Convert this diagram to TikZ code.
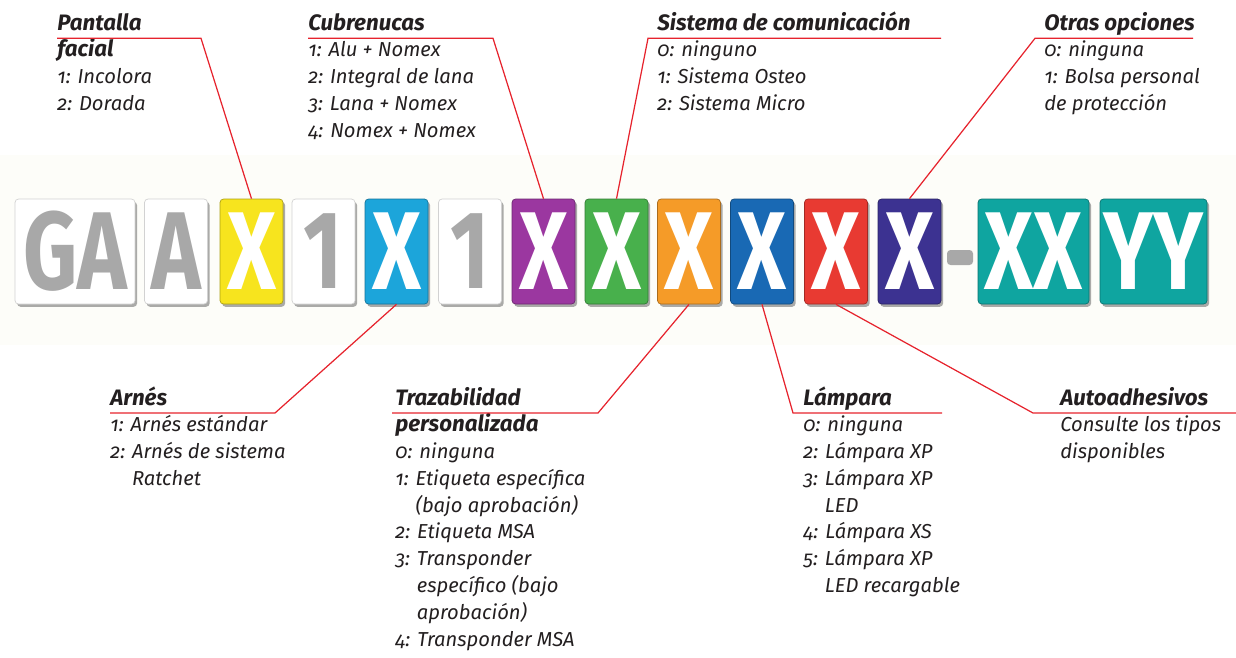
\documentclass[tikz,border=0pt]{standalone}
\usepackage{fontspec}
\usepackage{graphicx}
\setmainfont{Fira Sans}[Numbers=OldStyle]
\newfontfamily\tilefont{Fira Sans}[Numbers=Lining]
\usetikzlibrary{positioning, shadows}
\definecolor{calloutred}{RGB}{230,35,45}
\definecolor{inkdark}{RGB}{35,31,32}
\definecolor{bandcream}{RGB}{253,253,249}
\definecolor{lettergray}{RGB}{168,168,168}
\definecolor{tyellow}{RGB}{247,228,30}
\definecolor{tcyan}{RGB}{28,165,218}
\definecolor{tpurple}{RGB}{155,55,160}
\definecolor{tgreen}{RGB}{72,176,76}
\definecolor{torange}{RGB}{245,155,40}
\definecolor{tblue}{RGB}{25,105,180}
\definecolor{tred}{RGB}{232,58,50}
\definecolor{tnavy}{RGB}{60,50,145}
\definecolor{tteal}{RGB}{15,165,160}
\newcommand{\tileletters}[1]{\scalebox{0.76}[1]{#1}}
\newcommand{\opthead}[1]{{\bfseries\fontsize{12.7}{15.25}\selectfont #1}}
\newcommand{\optlist}[1]{\begin{tabular}[t]{@{}l@{}}#1\end{tabular}}

\tikzset{
  tile/.style={rounded corners=2pt, inner sep=0pt, minimum height=2.1cm, minimum width=1.26cm,
    font=\tilefont\bfseries\fontsize{63}{63}\selectfont, text=white,
    drop shadow={shadow xshift=1.2pt, shadow yshift=-1.6pt, fill=black!60, opacity=0.55}},
  blank/.style={tile, fill=white, draw=gray!35, text=lettergray},
  coloured/.style={tile, fill=#1, draw=#1!70!black},
  callout/.style={calloutred, line width=0.7pt},
  opts/.style={anchor=base west, inner sep=0pt, text=inkdark,
    font=\itshape\fontsize{11.5}{15.25}\selectfont},
}

\begin{document}
\begin{tikzpicture}[x=0.02cm, y=-0.02cm]
    \useasboundingbox (0,0) rectangle (1236,657);
    \fill[bandcream] (0,155) rectangle (1236,345);

    % Draw the white tiles
    \node[blank, minimum width=2.4cm] (tGA) at (75,251.5) {\tileletters{GA}};
    \node[blank] (tA) at (176,251.5) {\tileletters{A}};
    \node[blank] (tone) at (323.5,251.5) {\tileletters{1}};
    \node[blank] (ttwo) at (470,251.5) {\tileletters{1}};

    % Draw the coloured tiles
    \foreach \x/\name/\col in {251.5/visor/tyellow, 396.5/harness/tcyan, 543.5/cape/tpurple,
        616.5/comms/tgreen, 689/trace/torange, 762/lamp/tblue, 836/sticker/tred, 909.5/other/tnavy} {
        \node[coloured=\col] (\name) at (\x,251.5) {\tileletters{X}};
    }
    \node[fill=lettergray, rounded corners=2pt, inner sep=0pt, minimum width=0.52cm,
        minimum height=0.3cm] (dash) at (960,257.5) {};
    \node[coloured=tteal, minimum width=2.22cm] (tXX) at (1033.5,251.5) {\tileletters{XX}};
    \node[coloured=tteal, minimum width=2.14cm] (tYY) at (1153.5,251.5) {\tileletters{YY}};

    % Add the option texts
    \node[opts] (visortext) at (57,30) {\optlist{\opthead{Pantalla}\\\opthead{facial}\\1: Incolora\\2: Dorada}};
    \node[opts] (capetext) at (308,30) {\optlist{\opthead{Cubrenucas}\\1: Alu + Nomex\\2: Integral de lana\\3: Lana + Nomex\\4: Nomex + Nomex}};
    \node[opts] (commstext) at (657,30) {\optlist{\opthead{Sistema de comunicación}\\0: ninguno\\1: Sistema Osteo\\2: Sistema Micro}};
    \node[opts] (othertext) at (1044,30) {\optlist{\opthead{Otras opciones}\\0: ninguna\\1: Bolsa personal\\de protección}};
    \node[opts] (harnesstext) at (110,405) {\optlist{\opthead{Arnés}\\1: Arnés estándar\\2: Arnés de sistema\\\phantom{2: }Ratchet}};
    \node[opts] (tracetext) at (395,405) {\optlist{\opthead{Trazabilidad}\\\opthead{personalizada}\\0: ninguna\\1: Etiqueta específica\\\phantom{1: }(bajo aprobación)\\2: Etiqueta MSA\\3: Transponder\\\phantom{3: }específico (bajo\\\phantom{3: }aprobación)\\4: Transponder MSA}};
    \node[opts] (lamptext) at (803,405) {\optlist{\opthead{Lámpara}\\0: ninguna\\2: Lámpara XP\\3: Lámpara XP\\\phantom{3: }LED\\4: Lámpara XS\\5: Lámpara XP\\\phantom{5: }LED recargable}};
    \node[opts] (stickertext) at (1060,405) {\optlist{\opthead{Autoadhesivos}\\Consulte los tipos\\disponibles}};

    % Draw the red callouts
    \foreach \name/\cx/\ex in {visor/201/57, cape/493/308, comms/648/941, other/1035/1193} {
        \coordinate (\name-corner) at (\cx,38.3);
        \coordinate (\name-end) at (\ex,38.3);
        \draw[callout] (\name.north) -- (\name-corner) -- (\name-end);
    }
    \foreach \name/\cx/\ex in {harness/275/110, trace/598/392, lamp/793/942, sticker/1033/1236} {
        \coordinate (\name-corner) at (\cx,413);
        \coordinate (\name-end) at (\ex,413);
        \draw[callout] (\name.south) -- (\name-corner) -- (\name-end);
    }
\end{tikzpicture}
\end{document}
